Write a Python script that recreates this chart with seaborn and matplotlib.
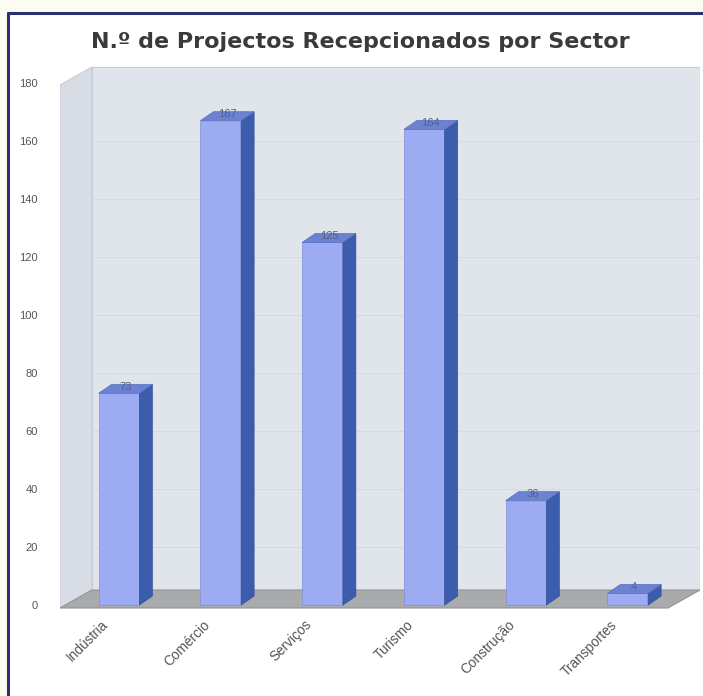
import matplotlib
matplotlib.use("Agg")
import matplotlib.pyplot as plt
import matplotlib.transforms as mtransforms
import seaborn as sns
import pandas as pd
from matplotlib.patches import Polygon, Rectangle
from matplotlib.lines import Line2D

categories = ["Indústria", "Comércio", "Serviços", "Turismo", "Construção", "Transportes"]
values = [73, 167, 125, 164, 36, 4]
y_ticks = [0, 20, 40, 60, 80, 100, 120, 140, 160, 180]
title = "N.º de Projectos Recepcionados por Sector"

df = pd.DataFrame({"Sector": categories, "Projectos": values})

sns.set_theme(style="white")
plt.rcParams["font.family"] = ["Liberation Sans", "DejaVu Sans"]

W, H = 703, 696
fig = plt.figure(figsize=(W / 100, H / 100), dpi=100)
fig.patch.set_facecolor("#fdfcf0")

# white panel with dark-blue frame (left & top)
fig.patches.append(Rectangle((8 / W, 0), 1 - 8 / W, 1 - 13 / H, transform=fig.transFigure,
                             facecolor="white", edgecolor="none", zorder=-10))
fig.lines.append(Line2D([8 / W, 8 / W], [0, 1 - 13 / H], transform=fig.transFigure,
                        color="#2b2f78", lw=2.2, zorder=-9))
fig.lines.append(Line2D([8 / W, 1], [1 - 13 / H, 1 - 13 / H], transform=fig.transFigure,
                        color="#2b2f78", lw=2.2, zorder=-9))

left_px, right_px, top_px, bot_px = 60, 700, 65, 612
ax = fig.add_axes([left_px / W, 1 - bot_px / H, (right_px - left_px) / W, (bot_px - top_px) / H])
ax.set_facecolor("none")
ax.set_zorder(1)

sns.barplot(data=df, x="Sector", y="Projectos", width=0.4, color="#9dabf2",
            saturation=1, ax=ax, zorder=3, edgecolor="#8090d8", linewidth=0.5)
bar_patches = [p for p in ax.patches if isinstance(p, Rectangle)]

ax.set_xlim(-0.58, 5.71)
ax.set_ylim(-2.4, 186.2)

# 3D wall & floor decoration in axes-fraction coords
def px2ax(x, y):
    return ((x - left_px) / (right_px - left_px), (bot_px - y) / (bot_px - top_px))

wall = Polygon([px2ax(92, 67), px2ax(700, 67), px2ax(700, 590), px2ax(92, 590)],
               closed=True, transform=ax.transAxes, facecolor="#e0e4eb",
               edgecolor="#c8ccd6", lw=0.8, zorder=0)
side = Polygon([px2ax(60, 85), px2ax(92, 67), px2ax(92, 590), px2ax(60, 608)],
               closed=True, transform=ax.transAxes, facecolor="#d8dce4",
               edgecolor="#c8ccd6", lw=0.8, zorder=0)
floor = Polygon([px2ax(60, 608), px2ax(92, 590), px2ax(700, 590), px2ax(668, 608)],
                closed=True, transform=ax.transAxes, facecolor="#a8aaac",
                edgecolor="#929496", lw=0.8, zorder=1)
for p in (wall, side, floor):
    ax.add_patch(p)

# faint horizontal grid on back wall
for t in y_ticks[1:-1]:
    ax.axhline(t, xmin=px2ax(92, 0)[0], xmax=1, color="#d4d8e0", lw=0.6, zorder=0.5)

# 3D bar sides / tops
fig.canvas.draw()
inv = ax.transData.inverted()
o = ax.transData.transform((0, 0))
d = inv.transform((o[0] + 13, o[1] + 9))
dx, dy = d[0], d[1]
for patch, v in zip(bar_patches, values):
    x0 = patch.get_x()
    w = patch.get_width()
    h = patch.get_height()
    x1 = x0 + w
    side_face = Polygon([(x1, 0), (x1 + dx, dy), (x1 + dx, h + dy), (x1, h)], closed=True,
                        facecolor="#3c5cae", edgecolor="#34509a", lw=0.5, zorder=3)
    top_face = Polygon([(x0, h), (x0 + dx, h + dy), (x1 + dx, h + dy), (x1, h)], closed=True,
                       facecolor="#6b82d2", edgecolor="#5a70c0", lw=0.5, zorder=3)
    ax.add_patch(side_face)
    ax.add_patch(top_face)
    ax.text(x0 + w / 2 + dx / 2, h + dy * 0.2, f"{v}", ha="center", va="bottom",
            fontsize=8, color="#55608a", zorder=4)

ax.set_yticks(y_ticks)
ax.set_yticklabels([str(t) for t in y_ticks], fontsize=8, color="#555555")
ax.tick_params(axis="y", length=0, pad=16)
ax.set_xticks(range(len(categories)))
ax.set_xticklabels(categories, rotation=45, ha="right", rotation_mode="anchor",
                   fontsize=9.8, color="#555555")
ax.tick_params(axis="x", length=0, pad=4)
shift = mtransforms.ScaledTranslation(-13 / 72, 0, fig.dpi_scale_trans)
for lbl in ax.get_xticklabels():
    lbl.set_transform(lbl.get_transform() + shift)
ax.set_xlabel("")
ax.set_ylabel("")
for s in ax.spines.values():
    s.set_visible(False)

fig.text(360 / W, 1 - 42 / H, title, ha="center", va="center", fontsize=16,
         fontweight="bold", color="#3a3a3a", family="DejaVu Sans")

fig.savefig("out.png", dpi=100)
